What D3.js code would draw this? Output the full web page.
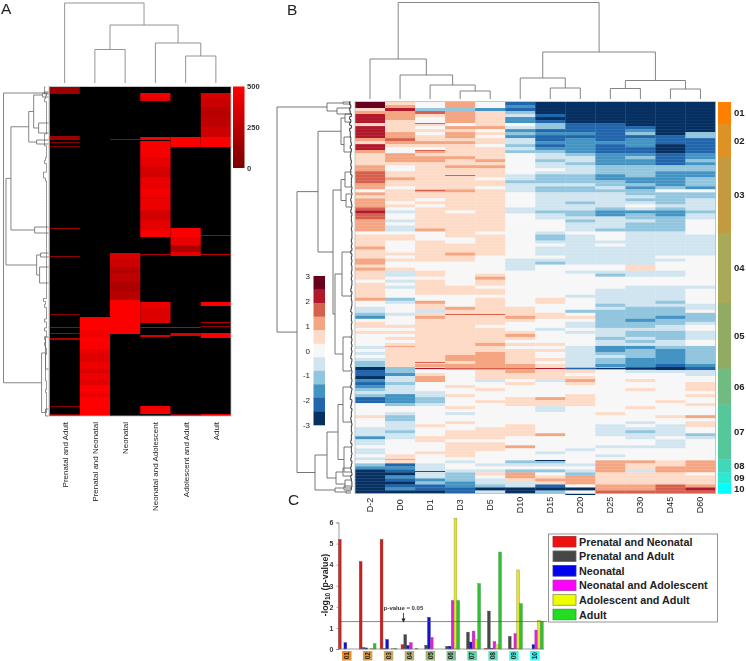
<!DOCTYPE html>
<html><head><meta charset="utf-8">
<script src="https://cdnjs.cloudflare.com/ajax/libs/d3/7.8.5/d3.min.js"></script>
<style>html,body{margin:0;padding:0;background:#fff}svg{display:block;filter:blur(0.35px)}text{font-family:"Liberation Sans",Arial,sans-serif}</style>
</head><body><svg id="c" width="746" height="661"></svg>
<script>
// ---------- Panel A data ----------
const stagesA = ["Prenatal and Adult","Prenatal and Neonatal","Neonatal","Neonatal and Adolescent","Adolescent and Adult","Adult"];
// runs: [first gene, last gene, count]
const runsPrenatalAdult = [[0,7,130],[49,53,140],[55,56,60],[59,60,40],[141,142,120],[169,170,100],[227,228,80],[240,241,200],[246,247,140],[251,253,200],[319,320,60],[327,329,50]];
const runsPrenatalNeonatal = [[230,243,495],[243,250,450],[250,262,485],[262,266,420],[266,275,380],[275,282,440],[282,286,360],[286,292,430],[292,298,390],[298,306,480],[306,310,420],[310,329,495]];
const runsNeonatal = [[52,53,170],[166,172,350],[172,180,310],[180,186,220],[186,195,260],[195,205,190],[205,213,230],[213,247,490]];
const runsNeonatalAdolescent = [[6,10,450],[10,14,400],[50,53,480],[54,70,470],[70,80,410],[80,90,340],[90,101,420],[101,110,460],[110,112,370],[112,123,430],[123,133,340],[133,143,400],[143,150,490],[167,168,200],[215,221,430],[221,236,370],[240,241,250],[248,250,350],[319,327,460]];
const runsAdolescentAdult = [[50,60,490],[141,150,480],[150,158,420],[158,165,200],[165,169,400],[240,241,300],[246,249,350],[327,329,60]];
const runsAdult = [[6,12,340],[12,20,300],[20,30,230],[30,40,260],[40,50,310],[50,60,490],[148,149,200],[167,168,250],[215,219,480],[235,236,200],[239,240,100],[246,251,480],[327,329,400]];
const runsA = [runsPrenatalAdult,runsPrenatalNeonatal,runsNeonatal,runsNeonatalAdolescent,runsAdolescentAdult,runsAdult];
const colTreeA = [80,0,[58,[33.5,1,2],[40,3,[27,4,5]]]];
const rowTreesA = [
 [45.5,[4,5,7],[7,[3,250,282],[3,322,329]]],
 [43,[38,[20,[15,[6,6,10],[10,36,46]],[12,53,57]],[14,140,146]],[12,[8,166,170],[9,180,196]]]
];
const combA = "3442342222222222244442222342225532222222222222222222222222222222222222222534222242242243432233333333322232222222";
const legendTicksA = [500,250,0];

// ---------- Panel B data ----------
const stagesB = ["D-2","D0","D1","D3","D5","D10","D15","D20","D25","D30","D45","D60"];
const levelKey = "abcdefghijk";
const levelColors = ["#053061","#2166ac","#4393c3","#92c5de","#d1e5f0","#f7f7f7","#fddbc7","#f4a582","#d6604d","#b2182b","#67001f"];
const heatRows = [
"kgfhfbaaaaaa","khfhfcaaaaaa","gjddcbaaaaaa","hhihgdaaaaaa","jhghgebaaaaa","jhfhgcaaaaaa","jgfhgcbaaaaa","gggfgfdbbaaa",
"jgfhhedbbbaa","jgggfcbbbcaa","jhfhgdccbdad","jhghfcbbbbbd","higggebcbcbb","ghhhgeccccbb","jgggfdbcbcab","jffggeccbbab",
"hfhggddcbbab","ghgggfedccbc","ghhhgfeecdbc","ghhghfdeccbd","gggggfedccbc","hfghhfeedddd","hfgggffedddd","iggggfeeddcc",
"iggggeddcdcc","ihggfeddcccd","iggggddddccd","hggggeeeddcd","hfggfeddecdc","fghhgeddddff","hggggfeeeddd","gggggfeeeedd",
"hgfggfeeedde","hfgggfedeede","hgfggfeeefee","ifgggeeedede","jegfgeddcccd","ifgggfedcdce","ifgggfeeedde","hegggffdeedf",
"hfgggffeeddf","hegggffeeddf","hehggffedddf","fffgffeffeef","ggfggfdefeee","ggffgfdefeee","gfgfgfeeeeee","gfgggffefeee",
"hfgggfeeeeee","gfgggfeeeeee","ggghgfeeeeee","gfggfffeeeff","hgggfeeeeeef","hffffedeeeff","gffffefffgff","hgfffefffgff",
"gegffffeeeef","gegfgfffdeef","gfffhfffffff","fegfgfffffff","gfgfgfffffff","geggfffffeee","gfgggfffeeef","gfgggfffeeef",
"gffffffeeeef",
"hdffgfgfeeef","fehfgfgfeedf","ffgfgfffdeee","efghggffedde","efegggfddddf","degggggfdddd","cfhgghggddcd","ffggggffdcdd",
"gfgggffeddde","ggggfffeddef","ffgggfefeeef","ggggggfeedde","ffggghffedde","fgggggffdede","ffgggfffedef","fggghggfeeef",
"eggggffeccdd","fggggggecdcd","eggghgfeddcd","fgghhgfeedcd","egghhggedccd","dggghgfedccd","dghhhhgeccbc",
"adghhhgddbab","bdffghggfeee","bcgfgggffffe","aehfggggffff","cehfefehfgff","bdfffgfgfffg","cefgfffffffg","deffgffffgfg",
"eeefffffffff","dcegfffgfffg",
"bcdffghgffff","bcdfggggffgf","fdeffgggfffg","fffgffeffgff","ffffffefffff","fefeffffgfff","gdffffffffgh","fdffffffffff",
"fefgfffffefg","fegffgffefeg","eeffggffeeef","edfgggffedef","eefggghfeeed","cegggffffefe","efgfffffffef","effggfffffef",
"fffgghffeeef","effggffeffff","efggffefffff","fgfgffffefff","egffffffffff","fgfefddfhhgh","dbefeeeehggh","ccefffffhghh",
"abeeeddehehh","aaedghfdgggf","acedfhghgggg","abcdeghhgggg","aadceeghgggg","abbcdebfhhih","acbbaaaahhij","aaabeadfiiii"
];
// fine single-gene lines: [stage index, gene position, level]
const thinLinesB = [[2,21,"i"],[2,48,"i"],[2,88,"i"],[3,73,"i"],[3,212,"i"],[4,212,"i"],[5,214,"h"],[2,260,"i"],
 [2,266,"j"],[3,266,"i"],[4,266,"i"],[5,266,"i"],[6,266,"j"],[7,266,"b"],[8,266,"a"],[9,266,"a"],[10,266,"a"],
 [1,244,"h"],[1,357,"h"],[6,358,"a"],[2,369,"j"],[7,392,"a"]];
const colTreeB = [96.5,[40,0,[24,1,[14,2,[8,3,4]]]],[47,[21,5,[11,6,7]],[18.5,[10.5,8,9],[10,10,11]]]];
const rowTreeB = [74,
 [24,[8,0,2],[14,6,12]],
 [54,
  [33,[10,[6,12,20],[7,35,50]],[18,[10,[6,70,85],[5,92,105]],[16,[9,150,194],[8,235,269]]]],
  [36,[24,[13,[8,285,320],[7,345,370]],[15,[8,366,374],[6,378,386]]],[16,[7,384,388],[5,389,391]]]
 ]];
const combB = "56465364636554435345434344233323234323423322322232324232322323223423322342332332232323234234323323423452342334323323342332342343243223";
const colorbarTicks = [3,2,1,0,-1,-2,-3];
const clusters = ["01","02","03","04","05","06","07","08","09","10"];
const clusterSize = [22,34,75,70,66,36,55,13,11,10];
const clusterColors = ["#ff8000","#de9226","#c49a3e","#a8aa58","#90ac62","#6fbb82","#55c89b","#3fd9b8","#2ce9d4","#00ffff"];
const tagColors = ["#f08a20","#e09a40","#c8a560","#b5b070","#9cb878","#7cc095","#60cfa5","#60e0c0","#50f0e0","#30ffff"];

// ---------- Panel C data ----------
const barSeries = ["Prenatal and Neonatal","Prenatal and Adult","Neonatal","Neonatal and Adolescent","Adolescent and Adult","Adult"];
const valPrenatalNeonatal = [5.2,4.15,5.2,0.2,0,0,0,0.02,0,0];
const valPrenatalAdult = [0,0.07,0.02,0.68,0.18,0.13,0.8,1.8,0.6,0];
const valNeonatal = [0.3,0.05,0.45,0.17,1.5,0.13,0.33,0.03,0.03,0.2];
const valNeonatalAdolescent = [0,0,0,0.3,0.55,2.3,0.85,0.35,0.73,0.9];
const valAdolescentAdult = [0,0.02,0.02,0,0,6.2,0.45,0.2,3.75,1.37];
const valAdult = [0,0.25,0.02,0.02,0,2.3,3.1,4.6,2.15,1.3];
const barValues = [valPrenatalNeonatal,valPrenatalAdult,valNeonatal,valNeonatalAdolescent,valAdolescentAdult,valAdult];
const barFill = ["#c9201f","#474747","#1212cc","#e020d8","#e2e632","#32c032"];
const barEdge = ["#a03030","#555","#303090","#a040a0","#8f8f40","#409040"];
const swatchFill = ["#f01010","#474747","#0000ee","#ff00ff","#eeff00","#22dd22"];
const swatchEdge = ["#a03030","#666","#303090","#a040a0","#8f8f40","#409040"];
const yTicksC = [0,1,2,3,4,5,6];
const pThreshold = 1.3;

// ---------- drawing ----------
const svg = d3.select("#c");
const panel = (t,x,y)=>svg.append("text").attr("x",x).attr("y",y).attr("font-size",15.5).attr("fill","#222").text(t);
panel("A",1,14); panel("B",287,14.5); panel("C",288,505);

function tree(g,node,px,py,color){
  const rec=n=>{
    if(typeof n==="number") return {p:px(n),h:py(0)};
    const [h,a,b]=n, A=rec(a), B=rec(b), H=py(h);
    g.append("path").attr("fill","none").attr("stroke",color).attr("stroke-width",0.9)
      .attr("d",g.attr("data-o")==="v"
        ? `M${A.p},${A.h}V${H}H${B.p}V${B.h}`
        : `M${A.h},${A.p}H${H}V${B.p}H${B.h}`);
    return {p:(A.p+B.p)/2,h:H};
  };
  rec(node);
}

// Panel A
const ax = d3.scaleBand().domain(d3.range(6)).range([49.5,231]);
const ay = d3.scaleLinear().domain([0,329]).range([87,416]);
const redScale = d3.scaleLinear().domain([0,500]).range(["#7a0000","#ff0000"]);
const gA = svg.append("g");
gA.append("rect").attr("x",ax.range()[0]).attr("y",ay(0)).attr("width",ax.range()[1]-ax.range()[0]).attr("height",ay(329)-ay(0)).attr("fill","#000");
runsA.forEach((runs,c)=>gA.selectAll(null).data(runs).enter().append("rect")
  .attr("x",ax(c)).attr("width",ax.bandwidth()).attr("y",d=>ay(d[0])).attr("height",d=>ay(d[1])-ay(d[0])).attr("fill",d=>redScale(d[2])));
gA.append("rect").attr("x",49).attr("y",86.5).attr("width",182).attr("height",329.5).attr("fill","none").attr("stroke","#bbb").attr("stroke-width",0.8);
const dA = svg.append("g").attr("data-o","v");
const ah = d3.scaleLinear().domain([0,80]).range([83,3]);
tree(dA,colTreeA,i=>ax(i)+ax.bandwidth()/2,ah,"#888");
const dAr = svg.append("g").attr("data-o","h");
const arh = d3.scaleLinear().domain([0,45.5]).range([48.5,3.5]);
rowTreesA.forEach(t=>tree(dAr,t,g=>ay(g),arh,"#777"));
const combScaleA = d3.scaleBand().domain(d3.range(combA.length)).range([87,416]);
dAr.append("path").attr("fill","none").attr("stroke","#666").attr("stroke-width",0.7)
  .attr("d",d3.line().x(([i,d])=>48.5-d).y(([i])=>combScaleA(i)).curve(d3.curveStepAfter)(Array.from(combA,(c,i)=>[i,+c])));
stagesA.forEach((s,i)=>svg.append("text").attr("transform",`translate(${ax(i)+ax.bandwidth()/2+3},422) rotate(-90)`)
  .attr("text-anchor","end").attr("font-size",8).attr("fill","#222").text(s));
const defs = svg.append("defs");
const grad = defs.append("linearGradient").attr("id","redbar").attr("x1",0).attr("x2",0).attr("y1",1).attr("y2",0);
grad.append("stop").attr("offset",0).attr("stop-color",redScale(0));
grad.append("stop").attr("offset",1).attr("stop-color",redScale(500));
const lbA = d3.scaleLinear().domain([0,500]).range([168,86.5]);
svg.append("rect").attr("x",233).attr("y",lbA(500)).attr("width",11.5).attr("height",lbA(0)-lbA(500)).attr("fill","url(#redbar)");
legendTicksA.forEach(t=>svg.append("text").attr("x",247).attr("y",lbA(t)+2.5).attr("font-size",7.6).attr("font-weight","bold").attr("fill","#333").text(t));

// Panel B
const bx = d3.scaleBand().domain(d3.range(12)).range([355,715.5]);
const by = d3.scaleBand().domain(d3.range(heatRows.length)).range([102,493.5]);
const level = d3.scaleOrdinal().domain(Array.from(levelKey)).range(levelColors);
const gB = svg.append("g");
heatRows.forEach((r,ri)=>gB.selectAll(null).data(Array.from(r)).enter().append("rect")
  .attr("x",(d,i)=>bx(i)).attr("y",by(ri)).attr("width",bx.bandwidth()+0.3).attr("height",by.bandwidth()+0.3).attr("fill",d=>level(d)));
const brg = d3.scaleLinear().domain([0,392]).range([102,494]);
gB.selectAll(null).data(thinLinesB).enter().append("rect")
  .attr("x",d=>bx(d[0])).attr("width",bx.bandwidth()).attr("y",d=>brg(d[1])).attr("height",1).attr("fill",d=>level(d[2]));
gB.append("rect").attr("x",355).attr("y",101.5).attr("width",360.5).attr("height",392).attr("fill","none").attr("stroke","#bbb").attr("stroke-width",0.8);
const dB = svg.append("g").attr("data-o","v");
const bh = d3.scaleLinear().domain([0,96.5]).range([99,2.5]);
tree(dB,colTreeB,i=>bx(i)+bx.bandwidth()/2,bh,"#777");
const dBr = svg.append("g").attr("data-o","h");
const brh = d3.scaleLinear().domain([0,74]).range([351,277]);
tree(dBr,rowTreeB,brg,brh,"#666");
const combScaleB = d3.scaleBand().domain(d3.range(combB.length)).range([102,493]);
dBr.append("path").attr("fill","none").attr("stroke","#222").attr("stroke-width",0.9)
  .attr("d",d3.line().x(([i,d])=>353-d*0.55).y(([i])=>combScaleB(i)).curve(d3.curveStepAfter)(Array.from(combB,(c,i)=>[i,+c])));
stagesB.forEach((s,i)=>svg.append("text").attr("transform",`translate(${bx(i)+bx.bandwidth()/2+3},505) rotate(-90)`)
  .attr("text-anchor","middle").attr("font-size",9).attr("fill","#222").text(s));
// colour key
const keyY = d3.scaleLinear().domain([3,-3]).range([276,425]);
const keyBand = d3.scaleBand().domain(d3.range(11)).range([276,425]);
svg.selectAll(null).data(levelColors.slice().reverse()).enter().append("rect")
  .attr("x",313.5).attr("width",11.5).attr("y",(d,i)=>keyBand(i)).attr("height",keyBand.bandwidth()+0.3).attr("fill",d=>d);
colorbarTicks.forEach(t=>svg.append("text").attr("x",310).attr("y",keyY(t)+3).attr("text-anchor","end").attr("font-size",8).attr("fill","#222").text(t));
// cluster strip
const total = d3.sum(clusterSize);
const sy = d3.scaleLinear().domain([0,total]).range([102,493.5]);
let acc=0;
clusters.forEach((c,i)=>{
  const a=acc,b=acc+clusterSize[i];acc=b;
  svg.append("rect").attr("x",718).attr("width",13).attr("y",sy(a)).attr("height",sy(b)-sy(a)+0.3).attr("fill",clusterColors[i]);
  svg.append("text").attr("x",734).attr("y",sy((a+b)/2)+3).attr("font-size",9.5).attr("font-weight","bold").attr("fill","#222").text(c);
});

// Panel C
const cx = d3.scaleBand().domain(clusters).range([336.3,545.3]);
const cy = d3.scaleLinear().domain([0,6]).range([649,522.5]);
const barW = 2.8;
const cOff = d3.scaleBand().domain(d3.range(6)).range([-8.4,8.4]);
const gC = svg.append("g");
barValues.forEach((vals,s)=>gC.selectAll(null).data(vals).enter().append("rect")
  .attr("x",(d,i)=>cx(clusters[i])+cx.bandwidth()/2+cOff(s))
  .attr("width",barW).attr("y",d=>cy(d)).attr("height",d=>cy(0)-cy(d))
  .attr("fill",barFill[s]).attr("stroke",barEdge[s]).attr("stroke-width",0.4));
const yAxisC = d3.axisLeft(cy).tickValues(yTicksC).tickSize(2).tickFormat(d3.format("d"));
const axC = svg.append("g").attr("transform","translate(338.5,0)").call(yAxisC);
axC.selectAll("text").attr("font-size",7).attr("font-weight","bold").attr("fill","#333").attr("font-family","Liberation Sans");
axC.selectAll("path,line").attr("stroke","#777").attr("stroke-width",0.7);
svg.append("line").attr("x1",338.5).attr("x2",544).attr("y1",cy(0)).attr("y2",cy(0)).attr("stroke","#777").attr("stroke-width",0.7);
svg.append("line").attr("x1",338.5).attr("x2",547).attr("y1",cy(pThreshold)).attr("y2",cy(pThreshold)).attr("stroke","#555").attr("stroke-width",0.7);
svg.append("text").attr("x",403.5).attr("y",610).attr("text-anchor","middle").attr("font-size",6).attr("font-weight","bold").attr("fill","#333").text("p-value = 0.05");
svg.append("line").attr("x1",403.5).attr("x2",403.5).attr("y1",613).attr("y2",620).attr("stroke","#222").attr("stroke-width",0.8);
svg.append("path").attr("d","M401.5,618.5L403.5,622.5L405.5,618.5Z").attr("fill","#222");
const yl = svg.append("text").attr("transform","translate(328,585) rotate(-90)").attr("text-anchor","middle").attr("font-size",8.8).attr("font-weight","bold").attr("fill","#222");
yl.append("tspan").text("-log");
yl.append("tspan").attr("font-size",6.5).attr("dy",2).text("10");
yl.append("tspan").attr("dy",-2).text(" (p-value)");
clusters.forEach((c,i)=>{
  const X=cx(c)+cx.bandwidth()/2;
  svg.append("rect").attr("x",X-4.7).attr("y",651).attr("width",9.4).attr("height",9.5).attr("fill",tagColors[i]);
  svg.append("text").attr("transform",`translate(${X+2.2},655.7) rotate(-90)`).attr("text-anchor","middle").attr("font-size",6.5).attr("font-weight","bold").attr("fill","#222").text(c);
});
// legend
svg.append("rect").attr("x",548.5).attr("y",534).attr("width",169).attr("height",88).attr("fill","#fff").attr("stroke","#888").attr("stroke-width",0.9);
const lgY = d3.scalePoint().domain(barSeries).range([541.7,614.5]);
barSeries.forEach((s,i)=>{
  svg.append("rect").attr("x",553).attr("y",lgY(s)-5.3).attr("width",23).attr("height",10.6).attr("fill",swatchFill[i]).attr("stroke",swatchEdge[i]).attr("stroke-width",0.8);
  svg.append("text").attr("x",579).attr("y",lgY(s)+4).attr("font-size",10.8).attr("font-weight","bold").attr("fill","#222").text(s);
});
</script></body></html>
